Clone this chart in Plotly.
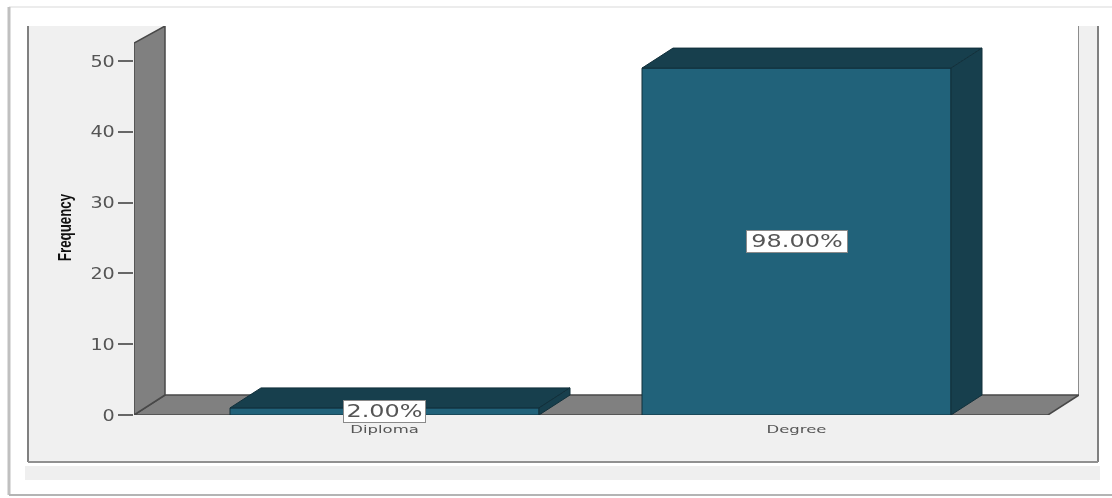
import plotly.graph_objects as go

categories = ["Diploma", "Degree"]
frequencies = [1, 49]
percent_labels = ["2.00%", "98.00%"]
y_ticks = [0, 10, 20, 30, 40, 50]

W, H = 1112, 498
L, R, T, B = 134, 1079, 26, 415      # plot-area pixel box
X0_PX, X_STEP = 384.5, 412           # pixel centre of first category, px per category
Y_STEP = 7.08                        # px per frequency unit
BAR_W = 0.75
DX, DY = 31 / X_STEP, 20 / Y_STEP    # 3-D depth in data units

x_lo, x_hi = (L - X0_PX) / X_STEP, (R - X0_PX) / X_STEP
y_hi = (B - T) / Y_STEP
floor_right = (1048 - X0_PX) / X_STEP
wall_front_top = (B - 43) / Y_STEP

FRONT, DARK, EDGE = "#21627a", "#173f4d", "#12303b"
GREY, GREY_EDGE, PANEL = "#808080", "#484848", "#f0f0f0"

def px(x): return (x - L) / (R - L)
def py(y): return (B - y) / (B - T)

def poly(xs, ys):
    return "M" + " L".join(f"{x},{y}" for x, y in zip(xs, ys)) + " Z"

fig = go.Figure()

for i, v in enumerate(frequencies):
    l, r = i - BAR_W / 2, i + BAR_W / 2
    fig.add_trace(go.Scatter(x=[l, r, r + DX, l + DX, l], y=[v, v, v + DY, v + DY, v],
                             mode="lines", fill="toself", fillcolor=DARK,
                             line=dict(color=EDGE, width=1), hoverinfo="skip", cliponaxis=False))
    fig.add_trace(go.Scatter(x=[r, r + DX, r + DX, r, r], y=[0, DY, v + DY, v, 0],
                             mode="lines", fill="toself", fillcolor=DARK,
                             line=dict(color=EDGE, width=1), hoverinfo="skip", cliponaxis=False))

fig.add_trace(go.Bar(x=list(range(len(categories))), y=frequencies, width=BAR_W,
                     marker=dict(color=FRONT, line=dict(color=EDGE, width=1)),
                     hoverinfo="skip", cliponaxis=False))

def rect_px(x0, y0, x1, y1, fill=None, line=None, width=1, layer="below"):
    return dict(type="rect", xref="paper", yref="paper", x0=px(x0), x1=px(x1), y0=py(y0), y1=py(y1),
                fillcolor=fill or "rgba(0,0,0,0)", line=dict(color=line or "rgba(0,0,0,0)", width=width), layer=layer)

def line_px(x0, y0, x1, y1, color, width=1, layer="below"):
    return dict(type="line", xref="paper", yref="paper", x0=px(x0), x1=px(x1), y0=py(y0), y1=py(y1),
                line=dict(color=color, width=width), layer=layer)

shapes = [
    # outer page frame
    line_px(9, 7, 1112, 7, "#ececec", 2),
    line_px(9, 7, 9, 495, "#c0c0c0", 3),
    line_px(9, 495, 1112, 495, "#b4b4b4", 2),
    # chart panel and strip below it
    rect_px(28, T, 1098, 462, fill=PANEL),
    line_px(28, T, 28, 462, "#808080", 2),
    line_px(1098, T, 1098, 462, "#808080", 2),
    line_px(28, 462, 1098, 462, "#909090", 2),
    rect_px(25, 466, 1100, 480, fill="#efefef"),
    # white back wall, with only its right edge drawn
    dict(type="path", xref="x", yref="y", layer="below", fillcolor="#ffffff",
         line=dict(color="rgba(0,0,0,0)", width=0),
         path=poly([DX + x_lo, x_hi, x_hi, DX + x_lo], [DY, DY, y_hi, y_hi])),
    dict(type="line", xref="x", yref="y", layer="below", x0=x_hi, x1=x_hi, y0=DY, y1=y_hi,
         line=dict(color="#666666", width=1.5)),
    # floor
    dict(type="path", xref="x", yref="y", layer="below", fillcolor=GREY,
         line=dict(color=GREY_EDGE, width=1.5),
         path=poly([x_lo, floor_right, x_hi, x_lo + DX], [0, 0, DY, DY])),
    # left wall
    dict(type="path", xref="x", yref="y", layer="below", fillcolor=GREY,
         line=dict(color=GREY_EDGE, width=1.5),
         path=poly([x_lo, x_lo, x_lo + DX, x_lo + DX], [0, wall_front_top, y_hi, DY])),
]

annotations = [
    dict(x=i, y=v / 2, xref="x", yref="y", text=t, showarrow=False,
         font=dict(family="DejaVu Sans", size=17, color="#555555"),
         bgcolor="#ffffff", bordercolor="#8a8a8a", borderwidth=1, borderpad=0,
         width=w, height=21, align="center")
    for i, (v, t, w) in enumerate(zip(frequencies, percent_labels, [81, 100]))
]
annotations.append(dict(x=px(65), y=py(228), xref="paper", yref="paper", text="<b>Frequency</b>",
                        textangle=-90, showarrow=False, xanchor="center", yanchor="middle",
                        font=dict(family="Liberation Sans", size=18, color="#111111")))

fig.update_layout(
    width=W, height=H, autosize=False, showlegend=False, barmode="overlay",
    margin=dict(l=L, r=W - R, t=T, b=H - B, pad=0),
    paper_bgcolor="#ffffff", plot_bgcolor=PANEL,
    shapes=shapes, annotations=annotations,
    xaxis=dict(range=[x_lo, x_hi], tickvals=list(range(len(categories))), ticktext=categories,
               ticks="", showgrid=False, zeroline=False, showline=False, ticklabelstandoff=6,
               tickfont=dict(family="DejaVu Sans", size=11, color="#555555")),
    yaxis=dict(range=[0, y_hi], tickvals=y_ticks, ticks="outside", ticklen=15, tickwidth=1.5,
               tickcolor="#666666", showgrid=False, zeroline=False, showline=False,
               tickfont=dict(family="DejaVu Sans", size=16, color="#555555")),
)

post = """
document.body.style.margin='0';
function stretch(t,k,end){
  var b=t.getBBox(), c=end? b.x+b.width : b.x+b.width/2;
  var old=t.getAttribute('transform')||'';
  t.setAttribute('transform',old+' translate('+c+',0) scale('+k+',1) translate('+(-c)+',0)');
}
document.querySelectorAll('.annotation-text').forEach(function(t){
  stretch(t, t.textContent.indexOf('%')>=0 ? 1.41 : 0.74, false);
});
document.querySelectorAll('.ytick text').forEach(function(t){stretch(t,1.2,true);});
document.querySelectorAll('.xtick text').forEach(function(t){stretch(t,1.5,false);});
document.querySelectorAll('.main-svg').forEach(function(s){s.style.filter='blur(0.5px)';});
"""
fig.write_html("out.html", post_script=post, config=dict(displayModeBar=False))
